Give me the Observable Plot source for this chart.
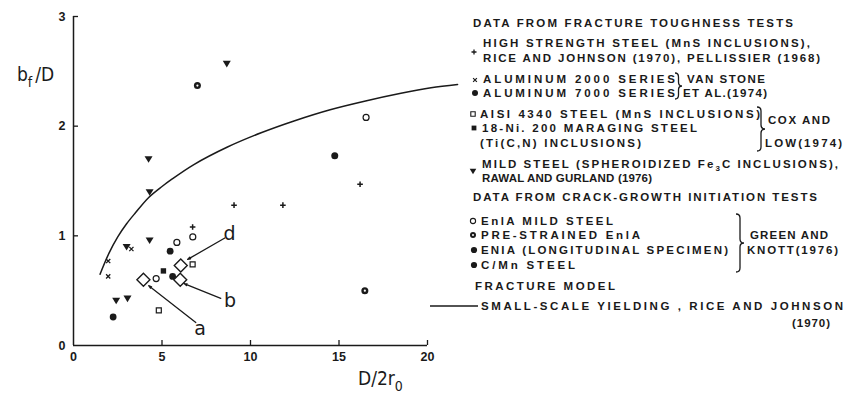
<!DOCTYPE html>
<html><head><meta charset="utf-8">
<script src="https://cdn.jsdelivr.net/npm/d3@7"></script>
<script src="https://cdn.jsdelivr.net/npm/@observablehq/plot@0.6"></script>
<style>
html,body{margin:0;padding:0;background:#fff;}
#wrap{position:relative;width:848px;height:393px;overflow:hidden;}
#wrap svg{position:absolute;left:0;top:0;}
</style></head><body><div id="wrap"></div>
<script>
// ---- data ----
const xTicks = [0, 5, 10, 15, 20];
const yTicks = [0, 1, 2, 3];

const highStrengthX = [6.73, 9.07, 11.83, 16.19];
const highStrengthY = [1.08, 1.28, 1.28, 1.47];
const al2000X = [1.96, 1.96, 3.27];
const al2000Y = [0.77, 0.63, 0.88];
const al7000X = [2.24, 5.46];
const al7000Y = [0.26, 0.86];
const aisi4340X = [4.82, 6.73];
const aisi4340Y = [0.32, 0.74];
const maragingX = [5.08];
const maragingY = [0.68];
const mildSteelX = [8.66, 4.24, 4.3, 4.3, 3.0, 2.41, 3.05];
const mildSteelY = [2.57, 1.70, 1.40, 0.96, 0.90, 0.41, 0.43];
const en1aX = [5.84, 6.74, 4.67, 16.53];
const en1aY = [0.94, 0.99, 0.61, 2.08];
const preStrainedX = [7.0, 16.46];
const preStrainedY = [2.37, 0.50];
const longitudinalX = [14.76];
const longitudinalY = [1.73];
const cmnX = [5.6];
const cmnY = [0.63];
const diamondLabels = ["a", "b", "d"];
const diamondX = [3.95, 6.03, 6.06];
const diamondY = [0.60, 0.60, 0.73];
const arrowFromX = [6.91, 8.32, 8.55];
const arrowFromY = [0.21, 0.43, 0.98];
const arrowToX = [4.25, 6.25, 6.45];
const arrowToY = [0.545, 0.565, 0.785];
const labelX = [7.15, 8.85, 8.81];
const labelY = [0.15, 0.41, 1.02];
const curveX = [1.5, 2.0, 2.5, 3.0, 3.5, 4.25, 5.0, 5.5, 6.8, 8.7, 10.6, 12.5, 14.5, 16.5, 18.5, 20.2, 21.7];
const curveY = [0.65, 0.84, 0.99, 1.11, 1.21, 1.35, 1.45, 1.51, 1.65, 1.81, 1.94, 2.05, 2.15, 2.23, 2.30, 2.35, 2.38];

const legendText = [
  "DATA FROM FRACTURE TOUGHNESS TESTS",
  "HIGH STRENGTH STEEL (MnS INCLUSIONS),",
  "RICE AND JOHNSON (1970), PELLISSIER (1968)",
  "ALUMINUM 2000 SERIES",
  "ALUMINUM 7000 SERIES",
  "VAN STONE",
  "ET AL.(1974)",
  "AISI 4340 STEEL (MnS INCLUSIONS)",
  "18-Ni. 200 MARAGING STEEL",
  "(Ti(C,N) INCLUSIONS)",
  "COX AND",
  "LOW(1974)",
  "MILD STEEL (SPHEROIDIZED Fe|3|C INCLUSIONS),",
  "RAWAL AND GURLAND (1976)",
  "DATA FROM CRACK-GROWTH INITIATION TESTS",
  "EnlA MILD STEEL",
  "PRE-STRAINED EnlA",
  "ENIA (LONGITUDINAL SPECIMEN)",
  "C/Mn STEEL",
  "GREEN AND",
  "KNOTT(1976)",
  "FRACTURE MODEL",
  "SMALL-SCALE YIELDING , RICE AND JOHNSON",
  "(1970)"
];

// ---- helpers ----
const rows = (xs, ys) => xs.map((x, i) => ({x, y: ys[i]}));
const rad = (size) => Math.sqrt(size / Math.PI);
const triDown = {draw(c, s) { const r = rad(s); c.moveTo(-r, -r * 0.7); c.lineTo(r, -r * 0.7); c.lineTo(0, r * 0.95); c.closePath(); }};
const square = {draw(c, s) { const r = rad(s); c.rect(-r, -r, 2 * r, 2 * r); }};
const diamond = {draw(c, s) { const r = rad(s); c.moveTo(0, -r); c.lineTo(r, 0); c.lineTo(0, r); c.lineTo(-r, 0); c.closePath(); }};
const plus = {draw(c, s) { const r = rad(s); c.moveTo(-r, 0); c.lineTo(r, 0); c.moveTo(0, -r); c.lineTo(0, r); }};
const times = {draw(c, s) { const r = rad(s) * 0.75; c.moveTo(-r, -r); c.lineTo(r, r); c.moveTo(-r, r); c.lineTo(r, -r); }};

const ink = "#1a1a1a";
const curve = rows(curveX, curveY);
const diamonds = diamondX.map((x, i) => ({x, y: diamondY[i], label: diamondLabels[i]}));
const arrows = arrowFromX.map((x, i) => ({x1: x, y1: arrowFromY[i], x2: arrowToX[i], y2: arrowToY[i]}));
const labels = labelX.map((x, i) => ({x, y: labelY[i], label: diamondLabels[i]}));

const chart = Plot.plot({
  width: 848, height: 393,
  marginLeft: 73, marginRight: 421, marginTop: 16, marginBottom: 48,
  x: {domain: [0, 20]},
  y: {domain: [0, 3]},
  style: {fontFamily: "'Liberation Sans', Arial, sans-serif", fontSize: "12.5px", fontWeight: "bold", color: ink, background: "transparent"},
  marks: [
    Plot.axisX(xTicks, {tickSize: 0, tickPadding: 7, label: null, tickFormat: d => String(d)}),
    Plot.axisY(yTicks, {tickSize: 0, tickPadding: 8, label: null, tickFormat: d => String(d)}),
    Plot.tickX(xTicks.slice(1), {x: d => d, stroke: ink, strokeWidth: 1.3, insetTop: 324}),
    Plot.tickY(yTicks.slice(1), {y: d => d, stroke: ink, strokeWidth: 1.3, insetRight: 349}),
    Plot.ruleY([0], {stroke: ink, strokeWidth: 1.5}),
    Plot.ruleX([0], {stroke: ink, strokeWidth: 1.5}),
    Plot.line(curve, {x: "x", y: "y", curve: "catmull-rom", stroke: ink, strokeWidth: 1.5, clip: false}),
    Plot.dot(rows(highStrengthX, highStrengthY), {x: "x", y: "y", symbol: plus, r: 2.8, stroke: ink, strokeWidth: 1.5, fill: "none"}),
    Plot.dot(rows(al2000X, al2000Y), {x: "x", y: "y", symbol: times, r: 2.8, stroke: ink, strokeWidth: 1.3, fill: "none"}),
    Plot.dot(rows(al7000X, al7000Y), {x: "x", y: "y", symbol: "circle", r: 3.4, fill: ink, stroke: "none"}),
    Plot.dot(rows(longitudinalX, longitudinalY), {x: "x", y: "y", symbol: "circle", r: 3.5, fill: ink, stroke: "none"}),
    Plot.dot(rows(cmnX, cmnY), {x: "x", y: "y", symbol: "circle", r: 3.4, fill: ink, stroke: "none"}),
    Plot.dot(rows(aisi4340X, aisi4340Y), {x: "x", y: "y", symbol: square, r: 2.5, fill: "white", stroke: ink, strokeWidth: 1.2}),
    Plot.dot(rows(maragingX, maragingY), {x: "x", y: "y", symbol: square, r: 2.7, fill: ink, stroke: "none"}),
    Plot.dot(rows(mildSteelX, mildSteelY), {x: "x", y: "y", symbol: triDown, r: 4, fill: ink, stroke: "none"}),
    Plot.dot(rows(en1aX, en1aY), {x: "x", y: "y", symbol: "circle", r: 3, fill: "white", stroke: ink, strokeWidth: 1.2}),
    Plot.dot(rows(preStrainedX, preStrainedY), {x: "x", y: "y", symbol: "circle", r: 3.5, fill: ink, stroke: "none"}),
    Plot.dot(rows(preStrainedX, preStrainedY), {x: "x", y: "y", symbol: "circle", r: 1.1, fill: "white", stroke: "none"}),
    Plot.arrow(arrows, {x1: "x1", y1: "y1", x2: "x2", y2: "y2", stroke: ink, strokeWidth: 1.3, headLength: 3.5, headAngle: 35}),
    Plot.dot(diamonds, {x: "x", y: "y", symbol: diamond, r: 6.5, fill: "white", stroke: ink, strokeWidth: 1.4}),
    Plot.text(labels, {x: "x", y: "y", text: "label", fontSize: 19, fontWeight: "normal", fontFamily: "'DejaVu Sans', sans-serif", textAnchor: "middle", fill: ink})
  ]
});
const wrap = document.getElementById("wrap");
wrap.appendChild(chart);

// ---- overlay: axis titles and legend ----
const svg = d3.select(wrap).append("svg").attr("width", 848).attr("height", 393)
  .style("pointer-events", "none").style("font-family", "'Liberation Sans', Arial, sans-serif").style("fill", ink);

// axis titles
const xt = svg.append("text").attr("x", 358).attr("y", 385).attr("font-size", 19).attr("font-family", "'DejaVu Sans Condensed', 'DejaVu Sans', sans-serif");
xt.append("tspan").text("D/2r");
xt.append("tspan").attr("dy", 6).attr("font-size", 14).text("0");
const yt = svg.append("text").attr("x", 17).attr("y", 81).attr("font-size", 19).attr("font-family", "'DejaVu Sans Condensed', 'DejaVu Sans', sans-serif");
yt.append("tspan").text("b");
yt.append("tspan").attr("dy", 6).attr("font-size", 14).text("f");
yt.append("tspan").attr("dy", -6).attr("dx", 3).text("/D");

// legend layout: [x, y (middle), width]
const legendLayout = [
  [473, 23, 320], [483, 43, 327], [483, 58, 337], [483, 79, 192], [483, 93, 192],
  [687, 79, 78], [683, 93, 84], [480, 114, 280], [482, 128, 215], [480, 143, 161],
  [768, 120, 62], [765, 143, 77], [482, 164, 356], [482, 178, 170], [473, 197, 344],
  [481, 221, 132], [481, 235, 159], [481, 250, 247], [481, 265, 94], [750, 235, 78],
  [747, 250, 91], [475, 286, 140], [481, 306, 362], [792, 323, 38]
];
legendText.forEach((t, i) => {
  const [x, y, w] = legendLayout[i];
  const el = svg.append("text").attr("x", x).attr("y", y).attr("dy", "0.36em")
    .attr("font-size", 11.5).attr("font-weight", "bold");
  const parts = t.split("|");
  if (parts.length === 3) {
    el.append("tspan").text(parts[0]);
    el.append("tspan").attr("font-size", 8).attr("dy", 3).text(parts[1]);
    el.append("tspan").attr("dy", -3).text(parts[2]);
  } else el.text(t);
  const natural = el.node().getComputedTextLength();
  el.attr("textLength", w).attr("lengthAdjust", natural > w ? "spacingAndGlyphs" : "spacing");
});

// legend symbols
const put = (d, x, y, fill, stroke, sw) => svg.append("path").attr("d", d).attr("transform", `translate(${x},${y})`)
  .attr("fill", fill).attr("stroke", stroke).attr("stroke-width", sw || 0);
const symPath = (symObj, r) => { const p = d3.path(); symObj.draw(p, r * r * Math.PI); return p.toString(); };
const circ = (r) => d3.symbol(d3.symbolCircle, Math.PI * r * r)();
put(symPath(plus, 2.5), 474, 52, "none", ink, 1.3);
put(symPath(times, 2.5), 475, 80, "none", ink, 1.2);
put(circ(3), 475, 93, ink, "none");
put(symPath(square, 2.2), 473, 114, "white", ink, 1.1);
put(symPath(square, 2.4), 474, 128, ink, "none");
put(symPath(triDown, 3.3), 473, 171, ink, "none");
put(circ(2.6), 473, 221, "white", ink, 1.1);
put(circ(3), 473, 235, ink, "none");
put(circ(1), 473, 235, "white", "none");
put(circ(3.1), 474, 250, ink, "none");
put(circ(3.1), 474, 265, ink, "none");
svg.append("line").attr("x1", 430).attr("x2", 478).attr("y1", 306).attr("y2", 306).attr("stroke", ink).attr("stroke-width", 1.5);

// braces
function brace(x, y0, y1, w) {
  const ym = (y0 + y1) / 2, h = x + w / 2, q = 4;
  return `M${x},${y0} Q${h},${y0} ${h},${y0 + q} L${h},${ym - q} Q${h},${ym} ${x + w},${ym} Q${h},${ym} ${h},${ym + q} L${h},${y1 - q} Q${h},${y1} ${x},${y1}`;
}
[[675, 73, 99, 7], [757, 107, 151, 8], [736, 214, 272, 8]].forEach(([x, y0, y1, w]) =>
  svg.append("path").attr("d", brace(x, y0, y1, w)).attr("fill", "none").attr("stroke", ink).attr("stroke-width", 1.3));
</script>
</body></html>
